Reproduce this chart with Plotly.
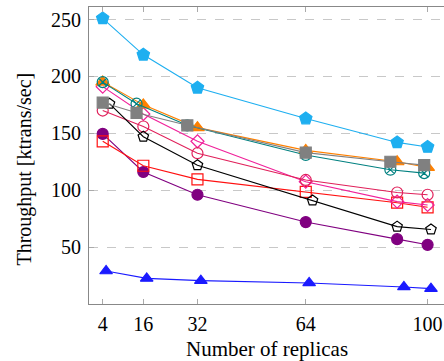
import plotly.graph_objects as go

x_nom = [4, 16, 32, 64, 91, 100]
x_alt = [4, 14, 29, 64, 89, 99]
x_black = [6, 16, 32, 66, 91, 101]
x_blue = [5, 17, 33, 65, 93, 101]

cyan_y = [251, 219, 190, 163, 142, 138]
orange_y = [195, 175, 155, 135, 125, 120]
teal_y = [195, 176, 157, 131, 118, 115]
gray_y = [177, 168, 157, 133, 125, 122]
black_y = [176, 147, 122, 91, 68, 65.5]
crimson_y = [170, 156, 132.5, 109, 98, 96]
pink_y = [191, 167, 143, 107.5, 90, 87]
red_y = [143, 121.5, 109.5, 98.5, 89, 85]
purple_y = [149.5, 116, 96, 72, 57, 52]
blue_y = [29, 22.5, 20.5, 18.5, 15, 13.5]

y_ticks = [50, 100, 150, 200, 250]
x_ticks = [4, 16, 32, 64, 100]

series = [
    (x_blue, blue_y, "#1a1aff", "triangle-up", 11),
    (x_nom, purple_y, "#800080", "circle", 11),
    (x_nom, red_y, "#ff1010", "square-open", 11),
    (x_nom, pink_y, "#f0209a", "diamond-open", 10),
    (x_nom, crimson_y, "#e0205a", "circle-open", 11),
    (x_black, black_y, "#000000", "pentagon-open", 11),
    (x_nom, orange_y, "#ff8000", "triangle-up", 12),
    (x_alt, teal_y, "#008080", "circle-x-open", 11),
    (x_alt, gray_y, "#808080", "square", 11),
    (x_nom, cyan_y, "#1eaff0", "pentagon", 13),
]

fig = go.Figure()
for xs, ys, col, sym, sz in series:
    fig.add_trace(go.Scatter(
        x=xs, y=ys, mode="lines+markers",
        line=dict(color=col, width=1.1),
        marker=dict(symbol=sym, size=sz, color=col,
                    line=dict(color=col, width=1.2)),
        showlegend=False, cliponaxis=False))

font_family = "Liberation Serif"
fig.update_layout(
    width=444, height=361,
    margin=dict(l=89, r=0, t=7, b=57, autoexpand=False),
    paper_bgcolor="white", plot_bgcolor="white",
    font=dict(family=font_family, size=20, color="black"),
    xaxis=dict(
        range=[-0.05, 104.85], tickvals=x_ticks, ticktext=[str(v) for v in x_ticks],
        showgrid=False, zeroline=False, automargin=False,
        showline=True, linecolor="#888888", linewidth=1, mirror="ticks",
        ticks="inside", ticklen=5, tickcolor="#aaaaaa", tickwidth=1,
        tickfont=dict(size=20), ticklabelstandoff=2,
    ),
    yaxis=dict(
        range=[0, 261], tickvals=y_ticks, ticktext=[str(v) for v in y_ticks],
        showgrid=True, gridcolor="#c8c8c8", griddash="dash", gridwidth=1,
        zeroline=False, automargin=False,
        showline=True, linecolor="#888888", linewidth=1, mirror=False,
        ticks="inside", ticklen=5, tickcolor="#aaaaaa", tickwidth=1,
        tickfont=dict(size=20), ticklabelstandoff=3,
    ),
    annotations=[
        dict(text="Number of replicas", xref="paper", yref="paper",
             x=0.501, y=-0.1526, xanchor="center", yanchor="middle",
             showarrow=False, font=dict(size=21)),
        dict(text="Throughput [ktrans/sec]", xref="paper", yref="paper",
             x=-0.1803, y=0.456, xanchor="center", yanchor="middle",
             textangle=-90, showarrow=False, font=dict(size=20)),
    ],
)
fig.write_html("out.html", config={"displayModeBar": False},
               post_script="document.body.style.margin='0';document.body.style.overflow='hidden';")
